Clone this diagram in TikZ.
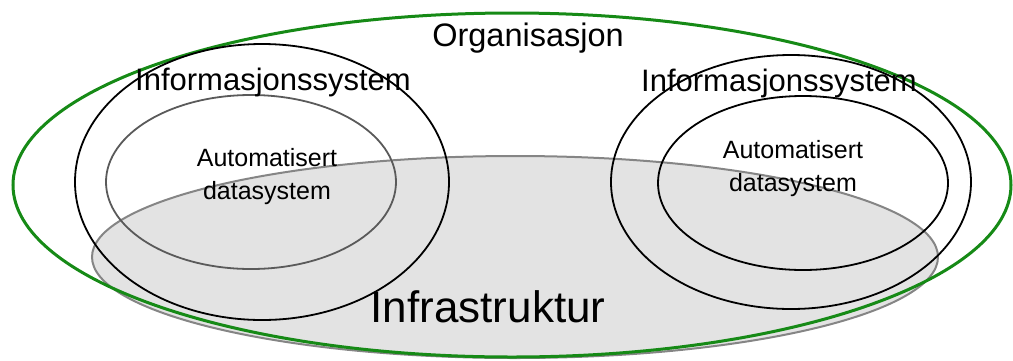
\documentclass[tikz,border=0pt]{standalone}
\usepackage{fontspec}
\setmainfont{Liberation Sans}
\definecolor{orggreen}{HTML}{168A16}
\definecolor{infrafill}{HTML}{E3E3E3}
\definecolor{infraline}{HTML}{858585}
\definecolor{innergray}{HTML}{5A5A5A}
\begin{document}
\begin{tikzpicture}[x=1pt,y=-1pt,
  infra/.style={fill=infrafill,draw=infraline,line width=2pt},
  org/.style={draw=orggreen,line width=3pt},
  outer/.style={draw=black,line width=1.8pt},
  inner/.style={line width=1.8pt},
  lbl/.style={inner sep=0pt,align=center}]
\useasboundingbox (0,0) rectangle (1013,360);
% Infrastructure
\draw[infra] (515,257) ellipse [x radius=423, y radius=101];
% Organisation
\draw[org] (512,185) ellipse [x radius=499, y radius=172];
% Left information system
\draw[outer] (262,182) ellipse [x radius=187, y radius=138];
\draw[inner,draw=innergray] (251,182) ellipse [x radius=145, y radius=87];
% Right information system
\draw[outer] (791,182) ellipse [x radius=180, y radius=127];
\draw[inner,draw=black] (803,183) ellipse [x radius=145, y radius=87];
% Labels
\node[lbl,font=\fontsize{32.5}{36}\selectfont] (org) at (528,38) {Organisasjon};
\node[lbl,font=\fontsize{31}{34}\selectfont] (isl) at (273,82) {Informasjonssystem};
\node[lbl,font=\fontsize{31}{34}\selectfont] (isr) at (779,83) {Informasjonssystem};
\node[lbl,font=\fontsize{25}{33}\selectfont] (adl) at (267,177) {Automatisert\\datasystem};
\node[lbl,font=\fontsize{25}{33}\selectfont] (adr) at (793,169) {Automatisert\\datasystem};
\node[lbl,font=\fontsize{44}{48}\selectfont] (infra) at (488,307) {Infrastruktur};
\end{tikzpicture}
\end{document}
